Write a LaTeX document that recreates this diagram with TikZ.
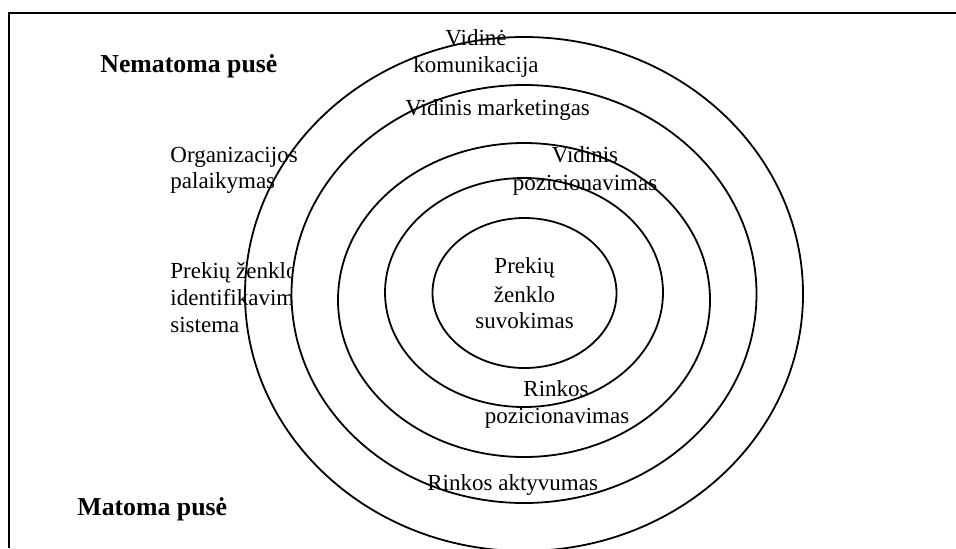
\documentclass[tikz,border=0pt]{standalone}
\usepackage{fontspec}
\setmainfont{Liberation Serif}
\begin{document}
\begin{tikzpicture}[x=0.5pt,y=-0.5pt,
  ring/.style={draw=black,line width=0.9pt,fill=white},
  frameline/.style={draw=black,line width=1pt},
  lbl/.style={inner sep=0pt,font=\fontsize{11.5}{13.5}\selectfont},
  side/.style={inner sep=0pt,font=\fontsize{12.9}{15}\selectfont\bfseries}]
\useasboundingbox (0,0) rectangle (956,548);
% open frame: left and top edges
\draw[frameline] (9,548) -- (9,13) -- (956,13);

% outermost ring
\draw[ring] (524,294) ellipse [x radius=139.5pt, y radius=128.5pt];

% texts on the left, partly hidden behind the inner rings
\node[lbl,anchor=base west] (org1) at (170,162) {Organizacijos};
\node[lbl,anchor=base west] (org2) at (170,188) {palaikymas};
\node[lbl,anchor=base west] (id1) at (170,278) {Prekių ženklo};
\node[lbl,anchor=base west] (id2) at (170,305) {identifikavimo};
\node[lbl,anchor=base west] (id3) at (170,332) {sistema};

% inner rings
\draw[ring] (524,294) ellipse [x radius=116.25pt, y radius=104.5pt];
\draw[ring] (524,300) ellipse [x radius=93pt, y radius=78.5pt];
\draw[ring] (524,292.5) ellipse [x radius=69.5pt, y radius=57.25pt];
\draw[ring] (524.5,293) ellipse [x radius=46pt, y radius=37.5pt];

% side headings
\node[side,anchor=base west] (hidden) at (100,72) {Nematoma pusė};
\node[side,anchor=base west] (visible) at (77,515) {Matoma pusė};

% ring labels
\node[lbl,anchor=base] (vk1) at (476,45) {Vidinė};
\node[lbl,anchor=base] (vk2) at (476,72) {komunikacija};
\node[lbl,anchor=base west] (vm) at (405,115) {Vidinis marketingas};
\node[lbl,anchor=base] (vp1) at (585,162) {Vidinis};
\node[lbl,anchor=base] (vp2) at (585,190) {pozicionavimas};
\node[lbl,anchor=base] (core1) at (524.5,273) {Prekių};
\node[lbl,anchor=base] (core2) at (524.5,302) {ženklo};
\node[lbl,anchor=base] (core3) at (524.5,328) {suvokimas};
\node[lbl,anchor=base] (rp1) at (556,396) {Rinkos};
\node[lbl,anchor=base] (rp2) at (557,423) {pozicionavimas};
\node[lbl,anchor=base west] (ra) at (427,490) {Rinkos aktyvumas};
\end{tikzpicture}
\end{document}
